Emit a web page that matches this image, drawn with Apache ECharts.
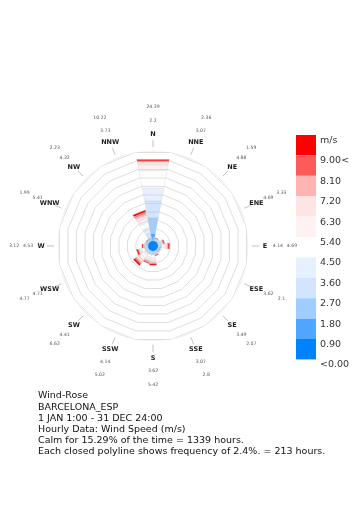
<!DOCTYPE html>
<html><head><meta charset="utf-8">
<script src="https://cdn.jsdelivr.net/npm/echarts@6/dist/echarts.min.js"></script>
<style>html,body{margin:0;padding:0;background:#fff}#c{width:362px;height:512px}</style>
</head><body><div id="c"></div>
<script>
// ---- data ----
const directions = ['N','NNE','NE','ENE','E','ESE','SE','SSE','S','SSW','SW','WSW','W','WNW','NW','NNW'];
const frequency = [24.39, 2.36, 1.59, 3.33, 4.69, 2.1, 2.07, 2.8, 5.42, 5.02, 6.62, 4.77, 3.12, 1.99, 2.23, 10.22];
const meanSpeed = [2.2, 3.07, 4.88, 4.69, 4.14, 3.62, 3.49, 3.07, 3.62, 4.14, 4.41, 4.71, 4.53, 5.41, 4.32, 3.73];
// frequency (%) of each speed bin per direction, bins low -> high (0-0.9 ... 9+)
const binFreq = [
  [1.5,2.0,4.5,4.7,3.6,4.9,1.7,0.8,0.2,0.0,0.49],
  [0.1,0.2,0.4,0.4,0.4,0.35,0.2,0.1,0.06,0.05,0.1],
  [0.05,0.1,0.2,0.25,0.3,0.27,0.15,0.1,0.05,0.04,0.08],
  [0.1,0.2,0.4,0.5,0.6,0.45,0.4,0.2,0.13,0.1,0.25],
  [0.1,0.3,0.6,0.7,0.8,0.65,0.5,0.3,0.2,0.14,0.4],
  [0.1,0.2,0.35,0.35,0.3,0.25,0.2,0.1,0.1,0.05,0.1],
  [0.1,0.2,0.35,0.35,0.3,0.27,0.17,0.1,0.08,0.05,0.1],
  [0.1,0.25,0.45,0.45,0.45,0.35,0.25,0.15,0.1,0.1,0.15],
  [0.1,0.3,0.6,0.7,0.8,0.87,0.7,0.5,0.3,0.2,0.35],
  [0.1,0.3,0.6,0.7,0.8,0.72,0.6,0.4,0.3,0.2,0.3],
  [0.1,0.3,0.7,0.9,1.0,1.02,0.8,0.6,0.4,0.3,0.5],
  [0.1,0.3,0.6,0.7,0.8,0.7,0.5,0.3,0.2,0.17,0.4],
  [0.1,0.2,0.4,0.5,0.5,0.42,0.3,0.2,0.15,0.1,0.25],
  [0.1,0.15,0.3,0.3,0.3,0.28,0.2,0.1,0.08,0.06,0.12],
  [0.1,0.15,0.35,0.35,0.35,0.33,0.2,0.1,0.08,0.1,0.12],
  [0.3,0.7,1.3,1.5,1.5,1.47,1.2,0.8,0.5,0.4,0.55]
];
const legendLabels = ['<0.00','0.90','1.80','2.70','3.60','4.50','5.40','6.30','7.20','8.10','9.00<','m/s'];
const binColors = ['#0082ff','#50a5ff','#a0cdff','#d2e4ff','#e6f0ff','#ffffff','#fff2f2','#ffe4e4','#ffb4b4','#ff5a5a','#ff0000'];
const ringStep = 2.4;
const ringCount = 11;
const calmPercent = 15.29;
const infoLines = ['Wind-Rose','BARCELONA_ESP','1 JAN 1:00 - 31 DEC 24:00','Hourly Data: Wind Speed (m/s)',
  'Calm for 15.29% of the time = 1339 hours.','Each closed polyline shows frequency of 2.4%. = 213 hours.'];

// ---- build ----
const FONT = "'DejaVu Sans', Verdana, sans-serif";
const rMax = ringStep * ringCount;
const segData = [];
directions.forEach((d, i) => {
  let acc = 0;
  binFreq[i].forEach((v, b) => {
    if (v > 0) segData.push([acc, i * 22.5, acc + v, b]);
    acc += v;
  });
});
const ringSeries = [];
const ringRadii = [];
for (let k = 1; k <= ringCount; k++) ringRadii.push(k * ringStep);
ringRadii.push(rMax * 1.018, rMax * 1.036);
ringRadii.forEach(r => {
  const pts = [];
  for (let k = 0; k <= 16; k++) pts.push([r, 11.25 + k * 22.5]);
  ringSeries.push({type:'line', coordinateSystem:'polar', data:pts, symbol:'none', silent:true, z:5,
    lineStyle:{color:'rgba(200,200,200,0.85)', width:0.7}});
});
const labelData = directions.map((d, i) => [0, i * 22.5, i]);

const option = {
  animation: false,
  polar: {center: [153, 246], radius: 95.3},
  angleAxis: {type:'value', min:0, max:360, startAngle:90, clockwise:true, show:false},
  radiusAxis: {type:'value', min:0, max:rMax, show:false},
  series: [
    {type:'custom', coordinateSystem:'polar', z:3, data: segData,
     renderItem: (params, api) => {
       const r0 = api.value(0), a = api.value(1), r1 = api.value(2), b = api.value(3);
       const hw = 10.6;
       return {type:'polygon', shape:{points:[api.coord([r0, a-hw]), api.coord([r1, a-hw]), api.coord([r1, a+hw]), api.coord([r0, a+hw])]},
         style:{fill: binColors[b], stroke:'rgba(180,180,180,0.5)', lineWidth:0.4}};
     }},
    ...ringSeries,
    {type:'custom', coordinateSystem:'polar', z:6, data: labelData,
     renderItem: (params, api) => {
       const a = api.value(1), i = api.value(2);
       const p0 = api.coord([rMax*1.036, a]), p1 = api.coord([rMax*1.115, a]);
       const pd = api.coord([31.0, a]), ps = api.coord([34.6, a]), pf = api.coord([38.5, a]);
       return {type:'group', children:[
         {type:'line', shape:{x1:p0[0], y1:p0[1], x2:p1[0], y2:p1[1]}, style:{stroke:'#aaa', lineWidth:0.7}},
         {type:'text', x:pd[0], y:pd[1], style:{text:directions[i], font:'bold 6.5px '+FONT, fill:'#222', align:'center', verticalAlign:'middle'}},
         {type:'text', x:ps[0], y:ps[1], style:{text:String(meanSpeed[i]), font:'4.6px '+FONT, fill:'#555', align:'center', verticalAlign:'middle'}},
         {type:'text', x:pf[0], y:pf[1], style:{text:String(frequency[i]), font:'4.6px '+FONT, fill:'#555', align:'center', verticalAlign:'middle'}}
       ]};
     }},
    {type:'custom', coordinateSystem:'polar', z:7, data:[[0, 0, calmPercent]],
     renderItem: (params, api) => {
       const c = api.coord([0, 0]);
       const r1 = api.coord([2.2, 0]);
       const rr = c[1] - r1[1];
       return {type:'group', children:[
         {type:'circle', shape:{cx:c[0], cy:c[1], r:rr}, style:{fill:'rgba(160,205,255,0.6)', stroke:'rgba(150,150,150,0.6)', lineWidth:0.5, lineDash:[1.5,1.5]}},
         {type:'circle', shape:{cx:c[0], cy:c[1], r:rr*0.62}, style:{fill:'#0082ff'}}
       ]};
     }}
  ],
  graphic: []
};
// legend
const cellH = 20.4, legX = 296, legTop = 135;
for (let b = binColors.length - 1, row = 0; b >= 0; b--, row++) {
  option.graphic.push({type:'rect', left:legX, top:legTop + row*cellH, shape:{width:20, height:cellH}, style:{fill:binColors[b]}});
}
legendLabels.slice().reverse().forEach((t, row) => {
  option.graphic.push({type:'text', left:320, top:legTop + 0.5 + row*cellH, style:{text:t, font:'9.5px '+FONT, fill:'#333'}});
});
infoLines.forEach((t, i) => {
  option.graphic.push({type:'text', left:38, top:391 + i*11.1, style:{text:t, font:'9.5px '+FONT, fill:'#111'}});
});
const chart = echarts.init(document.getElementById('c'), null, {renderer:'canvas'});
chart.setOption(option);
</script>
</body></html>
